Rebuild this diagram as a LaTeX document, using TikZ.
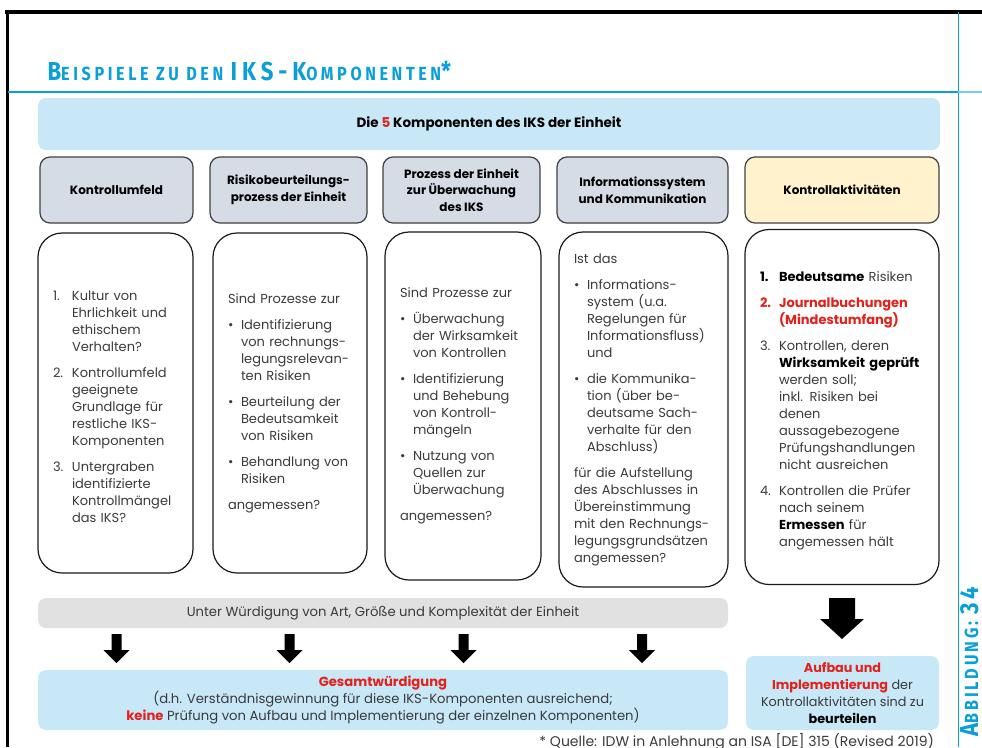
\documentclass[tikz,border=0pt]{standalone}
\usepackage{fontspec}
\setmainfont{Poppins}
\newfontfamily\condfont[FakeStretch=0.85, LetterSpace=19]{Fira Sans}
\newfontfamily\labfont[FakeStretch=0.85, LetterSpace=15]{Fira Sans}
\usetikzlibrary{positioning}
\definecolor{cblue}{HTML}{0A9FD8}
\definecolor{clight}{HTML}{C8E8F7}
\definecolor{chead}{HTML}{D6DCE5}
\definecolor{cyellow}{HTML}{FFF2CC}
\definecolor{cbar}{HTML}{E1E1E1}
\definecolor{cred}{HTML}{E3211B}
\definecolor{ctext}{HTML}{3A3A3A}
\definecolor{cline}{HTML}{404040}
\hyphenpenalty=10000
\exhyphenpenalty=10000
\newcommand{\nr}[1]{\par\hangindent=19pt\hangafter=1\noindent\makebox[19pt][l]{#1}}
\newcommand{\bl}{\par\hangindent=13pt\hangafter=1\noindent\makebox[13pt][l]{\textbullet}}
\newcommand{\sep}{\par\vspace{9pt}}
\newcommand{\hlb}[1]{\textbf{\color{black}#1}}
\newcommand{\redb}[1]{\textbf{\color{cred}#1}}
\newcommand{\bigc}{\fontsize{26}{26}\selectfont}
\newcommand{\smc}{\fontsize{19}{26}\selectfont}
\tikzset{
  every picture/.style={line width=1.2pt},
  hd/.style={draw=cline, fill=#1, rounded corners=10pt, align=center, text=black,
             font=\bfseries\fontsize{12}{16.5}\selectfont, minimum height=66pt},
  hd/.default=chead,
  body/.style={draw=black!90, rounded corners=24pt, align=left, inner xsep=15pt, text=ctext,
               font=\fontsize{13}{17}\selectfont},
  band/.style={fill=#1, rounded corners=8pt, align=center, text=ctext},
  band/.default=clight,
  title/.style={font=\condfont\bfseries, text=cblue},
  figlabel/.style={font=\labfont\bfseries, text=cblue},
}

\begin{document}
\begin{tikzpicture}[x=1pt, y=-1pt]
  \useasboundingbox (0,0) rectangle (982,747);
  % page frame
  \draw[line width=4pt] (5,12) -- (982,12);
  \draw[line width=3pt] (7,11) -- (7,747);
  \draw[cblue, line width=1pt] (958,12) -- (958,747);
  \draw[cblue, line width=1.3pt] (8,92) -- (958,92);
  \draw[cblue!55, line width=1.3pt] (958,92) -- (982,92);
  \node[title, anchor=base west, inner sep=0pt] (ttl) at (47,80)
    {\bigc B\smc EISPIELE ZU DEN \bigc IKS-K\smc OMPONENTEN\bigc *};
  \node[figlabel, rotate=90, anchor=base west, inner sep=0pt] (fig) at (978,737)
    {\bigc A\smc BBILDUNG: \bigc 34};
  % top band
  \node[band, minimum width=902pt, minimum height=52pt, font=\bfseries\fontsize{13.5}{14}\selectfont, text=black] (top) at (489,124)
    {Die \textcolor{cred}{5} Komponenten des IKS der Einheit};
  % component headers
  \foreach \n/\x/\w/\t/\c in {h1/116.5/153/{Kontrollumfeld}/chead,
      h2/288.5/157/{Risikobeurteilungs-\\prozess der Einheit}/chead,
      h3/461.5/157/{Prozess der Einheit\\zur Überwachung\\des IKS}/chead,
      h4/642.5/171/{Informationssystem\\und Kommunikation}/chead,
      h5/842/194/{Kontrollaktivitäten}/cyellow}
    \node[hd=\c, minimum width=\w pt] (\n) at (\x,190) {\t};
  % component questions
  \node[body, minimum height=340pt, text width=125pt] (b1) at (115.5,403)
    {\nr{1.}Kultur von\newline Ehrlichkeit und\newline ethischem\newline Verhalten?
     \sep\nr{2.}Kontrollumfeld\newline geeignete\newline Grundlage für\newline restliche IKS-\newline Komponenten
     \sep\nr{3.}Untergraben\newline identifizierte\newline Kontrollmängel\newline das IKS?\par};
  \node[body, minimum height=340pt, text width=124pt] (b2) at (290,403)
    {Sind Prozesse zur
     \sep\bl Identifizierung\newline von rechnungs-\newline legungsrelevan-\newline ten Risiken
     \sep\bl Beurteilung der\newline Bedeutsamkeit\newline von Risiken
     \sep\bl Behandlung von\newline Risiken
     \sep angemessen?};
  \node[body, minimum height=348pt, text width=126pt] (b3) at (463,406)
    {Sind Prozesse zur
     \sep\bl Überwachung\newline der Wirksamkeit\newline von Kontrollen
     \sep\bl Identifizierung\newline und Behebung\newline von Kontroll-\newline mängeln
     \sep\bl Nutzung von\newline Quellen zur\newline Überwachung
     \sep angemessen?};
  \node[body, minimum height=355pt, text width=139pt] (b4) at (643.5,409.5)
    {Ist das
     \sep\bl Informations-\newline system (u.a.\newline Regelungen für\newline Informationsfluss)\newline und
     \sep\bl die Kommunika-\newline tion (über be-\newline deutsame Sach-\newline verhalte für den\newline Abschluss)
     \sep für die Aufstellung\newline des Abschlusses in\newline Übereinstimmung\newline mit den Rechnungs-\newline legungsgrundsätzen\newline angemessen?};
  \node[body, minimum height=355pt, text width=164pt] (b5) at (842,407)
    {\nr{\hlb{1.}}\hlb{Bedeutsame} Risiken
     \sep\nr{\redb{2.}}\redb{Journalbuchungen}\newline\redb{(Mindestumfang)}
     \sep\nr{3.}Kontrollen, deren\newline\hlb{Wirksamkeit geprüft}\newline werden soll;\newline inkl. Risiken bei\newline denen\newline aussagebezogene\newline Prüfungshandlungen\newline nicht ausreichen
     \sep\nr{4.}Kontrollen die Prüfer\newline nach seinem\newline\hlb{Ermessen} für\newline angemessen hält\par};
  % assessment
  \node[band=cbar, minimum width=690pt, minimum height=30pt, font=\fontsize{13.2}{14}\selectfont] (bar) at (383,613)
    {Unter Würdigung von Art, Größe und Komplexität der Einheit};
  \foreach \x in {116.5,289.5,463.5,642}
    \fill (\x-5,634) -- (\x+5,634) -- (\x+5,650) -- (\x+13,650) -- (\x,663) -- (\x-13,650) -- (\x-5,650) -- cycle;
  \fill (829,598) -- (855,598) -- (855,619) -- (864,619) -- (842,639) -- (820,619) -- (829,619) -- cycle;
  \node[band, minimum width=690pt, minimum height=60pt, font=\fontsize{13.2}{17}\selectfont] (gw) at (383,700)
    {\redb{Gesamtwürdigung}\\(d.h. Verständnisgewinnung für diese IKS-Komponenten ausreichend;\\\redb{keine} Prüfung von Aufbau und Implementierung der einzelnen Komponenten)};
  \node[band, minimum width=193pt, minimum height=74pt, font=\fontsize{12.8}{17}\selectfont] (ai) at (842.5,693)
    {\redb{Aufbau und}\\\redb{Implementierung} der\\Kontrollaktivitäten sind zu\\\hlb{beurteilen}};
  \node[anchor=base east, text=ctext, font=\fontsize{14}{14}\selectfont] (src) at (938,746)
    {* Quelle: IDW in Anlehnung an ISA [DE] 315 (Revised 2019)};
\end{tikzpicture}
\end{document}
